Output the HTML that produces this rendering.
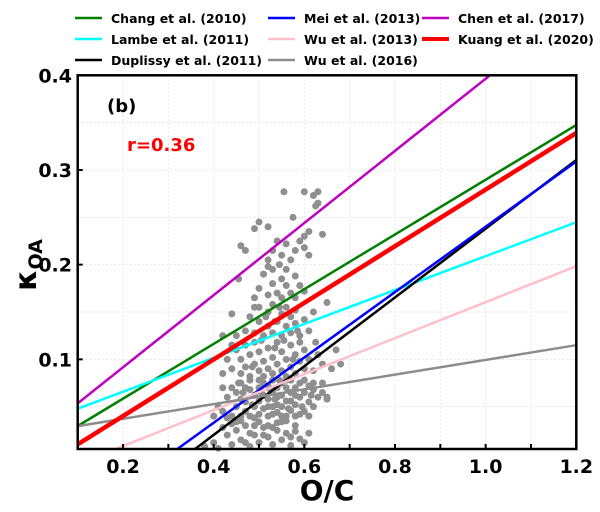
<!DOCTYPE html>
<html><head><meta charset="utf-8">
<style>
html,body{margin:0;padding:0;background:#fff;width:600px;height:512px;overflow:hidden;}
svg{display:block;font-family:"DejaVu Sans","Liberation Sans",sans-serif;font-weight:bold;}
</style></head>
<body>
<svg id="chart" width="600" height="512" viewBox="0 0 600 512" xmlns="http://www.w3.org/2000/svg">
  <g id="grid"></g>
  <g id="points"></g>
  <g id="lines"></g>
  <rect x="77.7" y="75.3" width="498.6" height="373.7" fill="none" stroke="#000" stroke-width="2.5"/>
  <g id="ticks"></g>
  <text x="327" y="500" text-anchor="middle" font-size="28">O/C</text>
  <text transform="translate(36,265) rotate(-90)" text-anchor="middle" font-size="30">κ<tspan font-size="19" dy="6">OA</tspan></text>
  <text x="107" y="112" font-size="18">(b)</text>
  <text x="127" y="151" font-size="18" fill="#ff0000">r=0.36</text>
  <g id="legend"></g>
</svg>
<script>
const xTicks = [0.2, 0.4, 0.6, 0.8, 1.0, 1.2];
const xTickLabels = ["0.2", "0.4", "0.6", "0.8", "1.0", "1.2"];
const yTicks = [0.1, 0.2, 0.3, 0.4];
const yTickLabels = ["0.1", "0.2", "0.3", "0.4"];
const seriesNames = ["Chang et al. (2010)", "Lambe et al. (2011)", "Duplissy et al. (2011)", "Mei et al. (2013)", "Wu et al. (2013)", "Wu et al. (2016)", "Chen et al. (2017)", "Kuang et al. (2020)"];
const seriesSlopes = [0.289, 0.179, 0.363, 0.345, 0.19, 0.0777, 0.381, 0.299];
const seriesIntercepts = [0.0007, 0.030, -0.125, -0.105, -0.0296, 0.0217, 0.0154, -0.0197];
const seriesColors = ["#007f00", "#00ffff", "#000000", "#0000ff", "#ffc0cb", "#8c8c8c", "#bf00bf", "#ff0000"];
const observations = [
[0.38,0.008],[0.40,0.012],[0.41,0.006],[0.43,0.02],[0.44,0.01],[0.45,0.025],[0.46,0.015],[0.47,0.03],[0.48,0.008],[0.49,0.02],[0.50,0.012],[0.51,0.028],[0.52,0.018],[0.53,0.01],[0.54,0.025],[0.55,0.015],[0.56,0.022],[0.57,0.009],[0.58,0.03],[0.59,0.016],[0.60,0.012],[0.42,0.028],[0.44,0.032],[0.46,0.035],[0.48,0.022],[0.50,0.034],[0.52,0.03],[0.54,0.033],[0.56,0.035],[0.58,0.024],[0.47,0.012],[0.49,0.03],[0.51,0.02],[0.53,0.028],[0.55,0.034],[0.57,0.018],[0.45,0.034],[0.61,0.022],
[0.40,0.04],[0.41,0.05],[0.42,0.045],[0.43,0.06],[0.44,0.04],[0.44,0.07],[0.45,0.05],[0.45,0.065],[0.46,0.04],[0.46,0.075],[0.47,0.055],[0.47,0.045],[0.48,0.068],[0.48,0.04],[0.48,0.078],[0.49,0.05],[0.49,0.062],[0.50,0.042],[0.50,0.07],[0.50,0.056],[0.51,0.048],[0.51,0.075],[0.51,0.062],[0.52,0.04],[0.52,0.058],[0.52,0.072],[0.53,0.05],[0.53,0.065],[0.53,0.078],[0.54,0.044],[0.54,0.06],[0.54,0.07],[0.55,0.05],[0.55,0.075],[0.55,0.062],[0.56,0.04],[0.56,0.056],[0.56,0.07],[0.57,0.046],[0.57,0.065],[0.57,0.078],[0.58,0.052],[0.58,0.07],[0.58,0.04],[0.59,0.06],[0.59,0.075],[0.60,0.045],[0.60,0.065],[0.61,0.055],[0.61,0.072],[0.62,0.05],[0.62,0.068],[0.63,0.06],[0.64,0.075],[0.65,0.058],[0.42,0.07],[0.43,0.038],[0.46,0.058],[0.47,0.07],[0.49,0.038],[0.5,0.078],[0.52,0.05],[0.53,0.042],[0.54,0.052],[0.55,0.04],[0.56,0.078],[0.57,0.056],[0.58,0.062],[0.59,0.042],[0.6,0.078],[0.61,0.04],[0.615,0.062],[0.595,0.05],[0.505,0.065],[0.485,0.052],[0.465,0.065],[0.455,0.075],[0.525,0.068],[0.545,0.078],[0.565,0.048],[0.535,0.058],
[0.42,0.085],[0.43,0.1],[0.44,0.09],[0.45,0.11],[0.46,0.085],[0.46,0.1],[0.47,0.115],[0.47,0.092],[0.48,0.082],[0.48,0.105],[0.49,0.095],[0.49,0.118],[0.50,0.088],[0.50,0.108],[0.51,0.098],[0.51,0.082],[0.52,0.112],[0.52,0.09],[0.53,0.102],[0.53,0.085],[0.54,0.118],[0.54,0.095],[0.55,0.088],[0.55,0.108],[0.56,0.1],[0.56,0.082],[0.57,0.115],[0.57,0.092],[0.58,0.085],[0.58,0.105],[0.59,0.098],[0.59,0.118],[0.60,0.09],[0.60,0.11],[0.61,0.1],[0.62,0.088],[0.63,0.105],[0.64,0.095],[0.625,0.118],[0.44,0.115],[0.505,0.12],[0.555,0.12],[0.485,0.092],[0.535,0.112],[0.575,0.1],
[0.45,0.125],[0.47,0.13],[0.48,0.145],[0.49,0.128],[0.50,0.14],[0.50,0.155],[0.51,0.125],[0.52,0.135],[0.52,0.15],[0.53,0.128],[0.53,0.158],[0.54,0.14],[0.55,0.125],[0.55,0.148],[0.56,0.135],[0.56,0.155],[0.57,0.128],[0.57,0.145],[0.58,0.138],[0.58,0.152],[0.59,0.125],[0.6,0.142],[0.61,0.13],[0.49,0.155],[0.515,0.145],[0.545,0.155],[0.585,0.13],[0.535,0.14],[0.62,0.15],
[0.49,0.165],[0.5,0.175],[0.51,0.19],[0.52,0.168],[0.53,0.18],[0.53,0.195],[0.54,0.17],[0.55,0.185],[0.55,0.165],[0.56,0.178],[0.56,0.195],[0.57,0.17],[0.58,0.188],[0.58,0.165],[0.59,0.178],[0.6,0.172],[0.52,0.198],[0.545,0.2],
[0.52,0.205],[0.53,0.215],[0.54,0.225],[0.55,0.21],[0.56,0.222],[0.57,0.205],[0.58,0.215],[0.59,0.225],[0.6,0.23],[0.61,0.235],
[0.50,0.245],[0.49,0.238],[0.52,0.24],[0.46,0.22],[0.47,0.215],[0.455,0.185],[0.44,0.148],[0.42,0.125],[0.60,0.277],[0.62,0.273],[0.63,0.277],[0.625,0.262],[0.63,0.265],[0.555,0.277],[0.575,0.25],[0.64,0.232],[0.60,0.218],[0.61,0.21],[0.65,0.16],[0.67,0.11],[0.66,0.09],[0.68,0.095],[0.64,0.065],[0.65,0.06],[0.62,0.075]
];
const X0 = 77.7, X1 = 576.3, Y0 = 449, Y1 = 75.3;
const xMin = 0.1, xMax = 1.2, yMin = 0.0053, yMax = 0.4;
function xs(v){ return X0 + (v - xMin) / (xMax - xMin) * (X1 - X0); }
function ys(v){ return Y0 - (v - yMin) / (yMax - yMin) * (Y0 - Y1); }
const NS = "http://www.w3.org/2000/svg";
function mk(tag, attrs, parent){ const e = document.createElementNS(NS, tag); for (const k in attrs) e.setAttribute(k, attrs[k]); parent.appendChild(e); return e; }
const grid = document.getElementById('grid');
for (let i = 0; i <= 11; i++) {
  const v = 0.1 + i * 0.1;
  const l = mk('line', {x1: xs(v), x2: xs(v), y1: Y1, y2: Y0, stroke: '#e4e4e4', 'stroke-width': 1, 'stroke-dasharray': '2,2'}, grid);
  
  
}
for (let i = 1; i <= 8; i++) {
  const v = i * 0.05;
  const l = mk('line', {x1: X0, x2: X1, y1: ys(v), y2: ys(v), stroke: '#e4e4e4', 'stroke-width': 1, 'stroke-dasharray': '2,2'}, grid);
  
  
}
const pts = document.getElementById('points');
observations.forEach(function(p){
  const c = mk('circle', {cx: xs(p[0]), cy: ys(p[1]), r: 3.5, fill: '#8f8f8f'}, pts);
  
  
});
const lines = document.getElementById('lines');
seriesNames.forEach(function(n, i){
  const a = seriesSlopes[i], b = seriesIntercepts[i];
  let xa = xMin, xb = xMax;
  if (a * xa + b < yMin) xa = (yMin - b) / a;
  if (a * xa + b > yMax) xa = (yMax - b) / a;
  if (a * xb + b > yMax) xb = (yMax - b) / a;
  if (a * xb + b < yMin) xb = (yMin - b) / a;
  const l = mk('line', {x1: xs(xa), y1: ys(a * xa + b), x2: xs(xb), y2: ys(a * xb + b), stroke: seriesColors[i], 'stroke-width': i === 7 ? 4.5 : 2.5}, lines);
  
  
});
const ticks = document.getElementById('ticks');
for (let i = 0; i <= 11; i++) {
  const v = 0.1 + i * 0.1;
  const t = mk('line', {x1: xs(v), x2: xs(v), y1: Y0, y2: Y0 - 5, stroke: '#000', 'stroke-width': 2}, ticks);
  
  
}
xTicks.forEach(function(v, i){
  const t = mk('text', {x: xs(v), y: 473, 'text-anchor': 'middle', 'font-size': 19}, ticks);
  t.textContent = xTickLabels[i];
  
  
});
yTicks.forEach(function(v, i){
  const m = mk('line', {x1: X0, x2: X0 + 5, y1: ys(v), y2: ys(v), stroke: '#000', 'stroke-width': 2}, ticks);
  
  
  const t = mk('text', {x: 72, y: ys(v) + 7, 'text-anchor': 'end', 'font-size': 19}, ticks);
  t.textContent = yTickLabels[i];
  
  
});
const legend = document.getElementById('legend');
const colX = [75, 268, 422];
const rowY = [18, 39, 60];
seriesNames.forEach(function(n, i){
  const col = Math.floor(i / 3), row = i % 3;
  const g = mk('g', {}, legend);
  
  
  mk('line', {x1: colX[col], x2: colX[col] + 27, y1: rowY[row], y2: rowY[row], stroke: seriesColors[i], 'stroke-width': i === 7 ? 4 : 2.5}, g);
  const t = mk('text', {x: colX[col] + 36, y: rowY[row] + 5, 'font-size': 12.5}, g);
  t.textContent = n;
});
</script>
</body></html>
